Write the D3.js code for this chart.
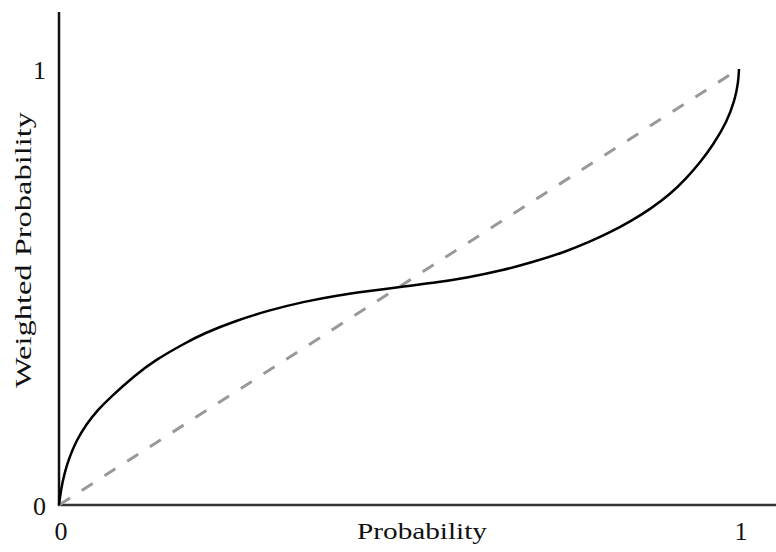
<!DOCTYPE html>
<html><head><meta charset="utf-8">
<script src="https://cdn.jsdelivr.net/npm/d3@7"></script>
<style>body{margin:0;background:#fff}svg{display:block}</style>
</head><body>
<svg id="c" width="776" height="552"></svg>
<script>
const probability = [0,0.003,0.008,0.015,0.025,0.040,0.057,0.074,0.112,0.141,0.185,0.212,0.262,0.310,0.359,0.409,0.457,0.501,0.550,0.600,0.649,0.697,0.747,0.781,0.810,0.840,0.869,0.899,0.923,0.943,0.962,0.982,0.994,0.999,1];
const weighted = [0,0.036,0.073,0.108,0.146,0.185,0.218,0.245,0.298,0.332,0.371,0.393,0.424,0.447,0.466,0.481,0.491,0.500,0.509,0.521,0.537,0.557,0.582,0.604,0.625,0.650,0.678,0.713,0.750,0.786,0.826,0.878,0.929,0.970,1];
const diagonal = [0,1];
const tickValues = [0,1];
const tickLabels = ["0","1"];
const xTitle = "Probability";
const yTitle = "Weighted Probability";

const svg = d3.select("#c");
const x = d3.scaleLinear().domain([0,1]).range([59,739]);
const y = d3.scaleLinear().domain([0,1]).range([505,69]);
const font = "'Liberation Serif', 'Times New Roman', serif";

// axes
svg.append("line").attr("x1",59).attr("x2",59).attr("y1",12).attr("y2",506)
  .attr("stroke","#111").attr("stroke-width",2.5);
svg.append("line").attr("x1",58).attr("x2",776).attr("y1",505).attr("y2",505)
  .attr("stroke","#333").attr("stroke-width",2.5);

// diagonal dashed
svg.append("path").datum(diagonal)
  .attr("d", d3.line().x(d=>x(d)).y(d=>y(d)))
  .attr("fill","none").attr("stroke","#999").attr("stroke-width",3)
  .attr("stroke-dasharray","13,14");

// curve
svg.append("path").datum(probability.map((p,i)=>[p,weighted[i]]))
  .attr("d", d3.line().x(d=>x(d[0])).y(d=>y(d[1])).curve(d3.curveBasis))
  .attr("fill","none").attr("stroke","#000").attr("stroke-width",2.5);

// x ticks
svg.selectAll(".xt").data(tickValues).enter().append("text")
  .attr("x",d=>x(d)+2).attr("y",540).attr("text-anchor","middle")
  .attr("font-family",font).attr("font-size",26).attr("fill","#111")
  .text((d,i)=>tickLabels[i]);
// y ticks
svg.selectAll(".yt").data(tickValues).enter().append("text")
  .attr("x",46).attr("y",d=>y(d)+10).attr("text-anchor","end")
  .attr("font-family",font).attr("font-size",26).attr("fill","#111")
  .text((d,i)=>tickLabels[i]);

svg.append("text").attr("x",422).attr("y",539).attr("text-anchor","middle")
  .attr("font-family",font).attr("font-size",24).attr("fill","#111")
  .attr("textLength",130).attr("lengthAdjust","spacingAndGlyphs")
  .text(xTitle);
svg.append("text").attr("transform","translate(31,250) rotate(-90)")
  .attr("text-anchor","middle")
  .attr("font-family",font).attr("font-size",24).attr("fill","#111")
  .attr("textLength",276).attr("lengthAdjust","spacingAndGlyphs")
  .text(yTitle);
</script>
</body></html>
